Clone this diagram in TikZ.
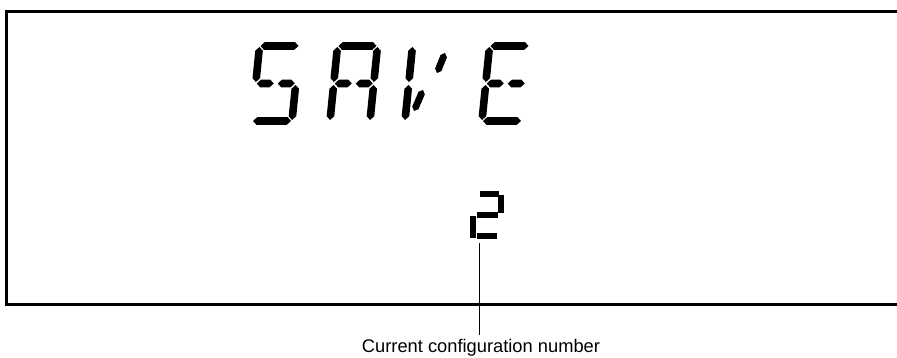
\documentclass[tikz,border=0pt]{standalone}
\usepackage{fontspec}
\setmainfont{Liberation Sans}
\usetikzlibrary{calc}
\tikzset{
  frame/.style={line width=3.3pt, line join=miter},
  leader/.style={line width=0.9pt},
  lbl/.style={font=\fontsize{18.3}{21}\selectfont, inner sep=0pt, anchor=base},
  seg/.style={fill=black},
}
\newcommand{\sh}{3.8}
\newcommand{\hsg}[3]{\fill[seg] (#1,#3) -- ({#1+\sh},{#3+\sh}) -- ({#2-\sh},{#3+\sh}) -- (#2,#3) -- ({#2-\sh},{#3-\sh}) -- ({#1+\sh},{#3-\sh}) -- cycle;}
\newcommand{\vsg}[3]{\fill[seg] (#1,#2) -- ({#1+\sh},{#2+\sh}) -- ({#1+\sh},{#3-\sh}) -- (#1,#3) -- ({#1-\sh},{#3-\sh}) -- ({#1-\sh},{#2+\sh}) -- cycle;}
\newcommand{\dsg}[2]{\fill[seg] (#1) -- ($(#1)!3.4pt!(#2)!3.4pt!90:(#2)$) -- ($(#2)!3.4pt!(#1)!3.4pt!-90:(#1)$) -- (#2) -- ($(#2)!3.4pt!(#1)!3.4pt!90:(#1)$) -- ($(#1)!3.4pt!(#2)!3.4pt!-90:(#2)$) -- cycle;}
\begin{document}
\begin{tikzpicture}[x=1pt,y=1pt]
\useasboundingbox (0,0) rectangle (897,358);
% frame (open on the right)
\coordinate (tr) at (900,346.3);
\coordinate (tl) at (6.7,346.3);
\coordinate (bl) at (6.7,53.7);
\coordinate (br) at (900,53.7);
\draw[frame] (tr) -- (tl) -- (bl) -- (br);
% S
\begin{scope}[shift={(252,237)}, xslant=0.1]
  \hsg{1}{39}{75}
  \vsg{0}{39}{74}
  \hsg{1}{18}{37.5}
  \hsg{22}{39}{37.5}
  \vsg{40}{1}{36}
  \hsg{1}{39}{0}
\end{scope}
% A
\begin{scope}[shift={(330,237)}, xslant=0.1]
  \hsg{1}{39}{75}
  \vsg{0}{39}{74}
  \vsg{40}{39}{74}
  \hsg{1}{18}{37.5}
  \hsg{22}{39}{37.5}
  \vsg{0}{1}{36}
  \vsg{40}{1}{36}
\end{scope}
% V
\begin{scope}[shift={(405,237)}, xslant=0.1]
  \vsg{0}{39}{74}
  \vsg{0}{1}{36}
\end{scope}
\dsg{445,305}{437,285}
\dsg{423,268}{414,247}
% E
\begin{scope}[shift={(482,237)}, xslant=0.1]
  \hsg{1}{39}{75}
  \vsg{0}{39}{74}
  \hsg{1}{18}{37.5}
  \hsg{22}{39}{37.5}
  \vsg{0}{1}{36}
  \hsg{1}{39}{0}
\end{scope}
% small digit 2
\fill[seg] (480,161) rectangle (499,167);
\fill[seg] (498,145) rectangle (504,163);
\fill[seg] (477,140) rectangle (498,146);
\fill[seg] (470,120) rectangle (476,142);
\fill[seg] (477,119) rectangle (497,125);
% label and leader
\coordinate (ld) at (479.5,115);
\node[lbl] (lbl) at (481,5) {Current configuration number};
\draw[leader] (ld) -- ([yshift=5pt]lbl.north -| ld);
\end{tikzpicture}
\end{document}
